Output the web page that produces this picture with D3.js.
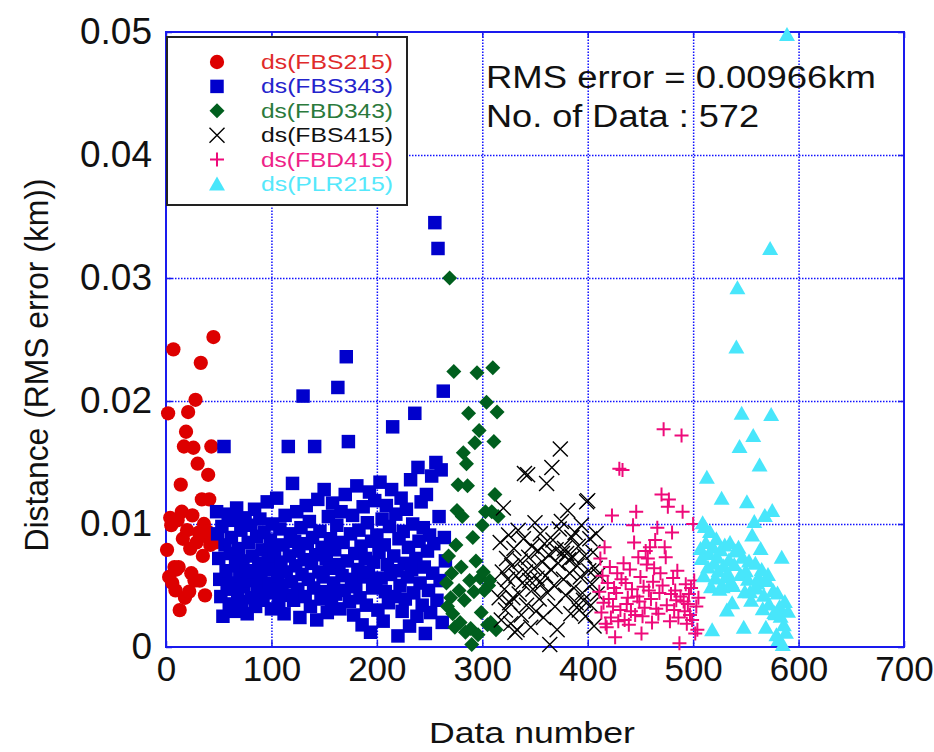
<!DOCTYPE html>
<html lang="en">
<head>
<meta charset="utf-8">
<script src="https://cdn.jsdelivr.net/npm/d3@7/dist/d3.min.js"></script>
<style type="text/css">
body {
	margin: 0;
	background-color: #ffffff;
	font-family: "Liberation Sans", Arial, sans-serif;
}
.axis text {
	font-family: "Liberation Sans", Arial, sans-serif;
	font-size: 35px;
	fill: #111;
}
.yaxis text { font-size: 37px; }
.axis line { stroke: #1a1aee; stroke-width: 1.5; }
.grid line { stroke: #1010ff; stroke-width: 1.5; stroke-dasharray: 1.5,1.5; }
</style>
</head>
<body>
<script type="text/javascript">

// axis ticks
var xTicks = [0, 100, 200, 300, 400, 500, 600, 700];
var yTicks = [0, 0.01, 0.02, 0.03, 0.04, 0.05];
var yTickLabels = ["0", "0.01", "0.02", "0.03", "0.04", "0.05"];

// legend names and the first data number of each series
var seriesNames = ["ds(FBS215)", "ds(FBS343)", "ds(FBD343)", "ds(FBS415)", "ds(FBD415)", "ds(PLR215)"];
var firstDataNumber = [1, 48, 266, 316, 411, 507];

// distances (km), one per data number
var fbs215 = [.0079, .0190, .0057, .0105, .0099, .0052, .0242, .0065, .0046, .0063,
	.0103, .0065, .0030, .0132, .0110, .0088, .0163, .0040, .0175, .0095,
	.0191, .0045, .0080, .0060, .0107, .0162, .0054, .0201, .0085, .0149,
	.0093, .0054, .0231, .0120, .0074, .0100, .0042, .0090, .0094, .0140,
	.0120, .0083, .0163, .0087, .0252, .0090, .0085];

var fbs343 = [.0110, .0092, .0072, .0055, .0041, .0098, .0025, .0163, .0083, .0062,
	.0047, .0108, .0035, .0076, .0089, .0052, .0103, .0029, .0066, .0113,
	.0043, .0080, .0058, .0095, .0037, .0070, .0049, .0105, .0062, .0027,
	.0085, .0054, .0099, .0040, .0074, .0061, .0112, .0033, .0090, .0048,
	.0068, .0104, .0056, .0079, .0038, .0093, .0065, .0045, .0118, .0071,
	.0052, .0087, .0031, .0100, .0063, .0078, .0044, .0121, .0058, .0036,
	.0096, .0069, .0050, .0083, .0027, .0107, .0061, .0042, .0163, .0074,
	.0092, .0053, .0133, .0038, .0086, .0066, .0110, .0047, .0078, .0024,
	.0097, .0059, .0204, .0071, .0041, .0115, .0084, .0055, .0102, .0033,
	.0068, .0089, .0048, .0163, .0075, .0022, .0120, .0061, .0094, .0039,
	.0081, .0057, .0128, .0045, .0072, .0028, .0106, .0064, .0088, .0036,
	.0117, .0052, .0079, .0043, .0099, .0211, .0067, .0031, .0110, .0058,
	.0085, .0046, .0124, .0236, .0070, .0167, .0037, .0092, .0055, .0107,
	.0026, .0076, .0049, .0131, .0063, .0095, .0040, .0082, .0018, .0114,
	.0057, .0072, .0034, .0101, .0061, .0126, .0012, .0086, .0048, .0069,
	.0119, .0053, .0091, .0030, .0077, .0134, .0056, .0104, .0021, .0083,
	.0045, .0115, .0067, .0036, .0098, .0059, .0128, .0179, .0074, .0041,
	.0108, .0062, .0009, .0088, .0050, .0121, .0029, .0094, .0068, .0039,
	.0112, .0057, .0081, .0017, .0136, .0063, .0100, .0044, .0190, .0072,
	.0025, .0146, .0086, .0052, .0118, .0034, .0097, .0065, .0011, .0124,
	.0078, .0046, .0091, .0028, .0139, .0060, .0084, .0345, .0150, .0038,
	.0324, .0106, .0054, .0144, .0020, .0208, .0089, .0070];

var fbd343 = [.0052, .0033, .0074, .0300, .0040, .0060, .0027, .0224, .0016, .0083,
	.0111, .0132, .0046, .0020, .0065, .0106, .0158, .0038, .0012, .0149,
	.0131, .0190, .0054, .0015, .0002, .0089, .0045, .0166, .0070, .0223,
	.0010, .0176, .0056, .0028, .0099, .0061, .0046, .0110, .0199, .0018,
	.0050, .0054, .0020, .0110, .0227, .0167, .0124, .0014, .0191, .0106];

var fbs415 = [.0040, .0085, .0022, .0061, .0113, .0047, .0030, .0072, .0055, .0091,
	.0036, .0019, .0066, .0040, .0080, .0012, .0058, .0014, .0095, .0043,
	.0070, .0026, .0052, .0088, .0141, .0061, .0034, .0140, .0073, .0054,
	.0016, .0082, .0047, .0064, .0101, .0029, .0056, .0078, .0039, .0092,
	.0051, .0069, .0024, .0084, .0058, .0133, .0044, .0075, .0002, .0063,
	.0146, .0087, .0050, .0033, .0079, .0014, .0068, .0096, .0161, .0102,
	.0076, .0055, .0080, .0042, .0076, .0111, .0071, .0060, .0027, .0089,
	.0073, .0048, .0093, .0036, .0066, .0082, .0030, .0057, .0099, .0044,
	.0038, .0074, .0025, .0118, .0119, .0062, .0088, .0034, .0051, .0077,
	.0017, .0064, .0092, .0043, .0059];

var fbd415 = [.0045, .0072, .0028, .0058, .0036, .0081, .0019, .0016, .0052, .0039,
	.0065, .0024, .0107, .0033, .0048, .0008, .0044, .0060, .0021, .0145,
	.0030, .0055, .0144, .0068, .0022, .0052, .0035, .0040, .0018, .0063,
	.0029, .0047, .0099, .0085, .0026, .0110, .0041, .0073, .0037, .0057,
	.0011, .0025, .0049, .0032, .0078, .0067, .0072, .0046, .0081, .0039,
	.0020, .0053, .0064, .0087, .0031, .0097, .0027, .0044, .0060, .0124,
	.0050, .0177, .0081, .0073, .0034, .0114, .0120, .0021, .0043, .0093,
	.0056, .0030, .0046, .0038, .0062, .0024, .0003, .0041, .0172, .0110,
	.0037, .0029, .0051, .0019, .0035, .0043, .0026, .0048, .0022, .0100,
	.0054, .0011, .0033, .0014, .0040];

var plr215 = [.0080, .0072, .0101, .0058, .0098, .0085, .0138, .0065, .0076, .0094,
	.0049, .0014, .0081, .0068, .0056, .0088, .0073, .0062, .0047, .0079,
	.0121, .0049, .0066, .0083, .0057, .0030, .0060, .0071, .0085, .0053,
	.0036, .0050, .0067, .0078, .0244, .0292, .0081, .0163, .0059, .0190,
	.0073, .0016, .0045, .0062, .0118, .0055, .0070, .0045, .0038, .0091,
	.0172, .0102, .0068, .0048, .0052, .0057, .0148, .0080, .0063, .0031,
	.0042, .0107, .0016, .0054, .0059, .0035, .0324, .0189, .0111, .0046,
	.0028, .0027, .0010, .0044, .0006, .0033, .0025, .0073, .0002, .0018,
	.0037, .0012, .0498, .0029];

var allSeries = [fbs215, fbs343, fbd343, fbs415, fbd415, plr215];

// marker and text colours per series
var markColors = ["#dd0000", "#0000cc", "#005f1e", "#000000", "#ee0a7a", "#48e6fb"];
var textColors = ["#e02a2a", "#2424cc", "#2b7a3c", "#111111", "#ee2288", "#55e8fb"];
var markTypes = ["circle", "square", "diamond", "cross", "plus", "triangle"];

var width = 934, height = 752;

var svg = d3.select("body").append("svg")
	.attr("width", width)
	.attr("height", height);

var x = d3.scaleLinear().domain([0, 700]).range([166, 904]);
var y = d3.scaleLinear().domain([0, 0.05]).range([647, 32]);

// marker shapes
function markPath(type) {
	if (type == "circle") return d3.symbol().type(d3.symbolCircle).size(160)();
	if (type == "square") return d3.symbol().type(d3.symbolSquare).size(182)();
	if (type == "triangle") return "M0,-7.5L8,6.5L-8,6.5Z";
	if (type == "diamond") return "M0,-7.5L7.5,0L0,7.5L-7.5,0Z";
	if (type == "cross") return "M-7.5,-7.5L7.5,7.5M-7.5,7.5L7.5,-7.5";
	return "M-7,0L7,0M0,-7L0,7";
}
function styleMark(sel, i) {
	var t = markTypes[i];
	if (t == "cross" || t == "plus") {
		sel.attr("fill", "none")
			.attr("stroke", markColors[i])
			.attr("stroke-width", t == "cross" ? 1.4 : 2);
	} else {
		sel.attr("fill", markColors[i]).attr("stroke", "none");
	}
}

// gridlines
svg.append("g")
	.attr("class", "grid")
	.attr("transform", "translate(0,647)")
	.call(d3.axisBottom(x).tickValues(xTicks.slice(1, -1)).tickSize(-615).tickFormat(""))
	.select(".domain").remove();

svg.append("g")
	.attr("class", "grid")
	.attr("transform", "translate(166,0)")
	.call(d3.axisLeft(y).tickValues(yTicks.slice(1, -1)).tickSize(-738).tickFormat(""))
	.select(".domain").remove();

// axes
svg.append("g")
	.attr("class", "axis")
	.attr("transform", "translate(0,647)")
	.call(d3.axisBottom(x).tickValues(xTicks).tickSizeInner(-6).tickSizeOuter(0).tickPadding(9));

svg.append("g")
	.attr("class", "axis yaxis")
	.attr("transform", "translate(166,0)")
	.call(d3.axisLeft(y).tickValues(yTicks).tickSizeInner(-6).tickSizeOuter(0).tickPadding(14)
		.tickFormat(function(d, i) { return yTickLabels[i]; }));

svg.append("g")
	.attr("class", "axis")
	.attr("transform", "translate(0,32)")
	.call(d3.axisTop(x).tickValues(xTicks).tickSizeInner(-6).tickSizeOuter(0).tickFormat(""));

svg.append("g")
	.attr("class", "axis")
	.attr("transform", "translate(904,0)")
	.call(d3.axisRight(y).tickValues(yTicks).tickSizeInner(-6).tickSizeOuter(0).tickFormat(""));

svg.selectAll(".axis .domain").remove();

// frame
svg.append("rect")
	.attr("x", x(0))
	.attr("y", y(0.05))
	.attr("width", x(700) - x(0))
	.attr("height", y(0) - y(0.05))
	.attr("fill", "none")
	.attr("stroke", "#1a1aee")
	.attr("stroke-width", 2);

// points
allSeries.forEach(function(values, i) {
	var pts = svg.append("g").selectAll("path")
		.data(values)
		.enter()
		.append("path")
		.attr("d", markPath(markTypes[i]))
		.attr("transform", function(d, j) {
			return "translate(" + x(firstDataNumber[i] + j) + "," + y(d) + ")";
		});
	styleMark(pts, i);
});

// legend
var legend = svg.append("g");
legend.append("rect")
	.attr("x", 167).attr("y", 37)
	.attr("width", 240).attr("height", 168)
	.attr("fill", "#fff")
	.attr("stroke", "#222")
	.attr("stroke-width", 2);

seriesNames.forEach(function(name, i) {
	var cy = 62 + i * 24.4;
	var m = legend.append("path")
		.attr("d", markPath(markTypes[i]))
		.attr("transform", "translate(217," + cy + ")");
	styleMark(m, i);
	legend.append("text")
		.attr("x", 261)
		.attr("y", cy + 7)
		.attr("font-size", "21px")
		.attr("textLength", 132)
		.attr("lengthAdjust", "spacingAndGlyphs")
		.attr("fill", textColors[i])
		.text(name);
});

// annotation
svg.append("text")
	.attr("x", 486).attr("y", 88)
	.attr("font-size", "31px")
	.attr("textLength", 390)
	.attr("lengthAdjust", "spacingAndGlyphs")
	.attr("fill", "#111")
	.text("RMS error = 0.00966km");

svg.append("text")
	.attr("x", 486).attr("y", 127)
	.attr("font-size", "31px")
	.attr("textLength", 273)
	.attr("lengthAdjust", "spacingAndGlyphs")
	.attr("fill", "#111")
	.text("No. of Data : 572");

// axis titles
svg.append("text")
	.attr("x", 532).attr("y", 743)
	.attr("text-anchor", "middle")
	.attr("font-size", "30px")
	.attr("textLength", 206)
	.attr("lengthAdjust", "spacingAndGlyphs")
	.attr("fill", "#111")
	.text("Data number");

svg.append("text")
	.attr("transform", "translate(48,365) rotate(-90)")
	.attr("text-anchor", "middle")
	.attr("font-size", "34px")
	.attr("textLength", 373)
	.attr("lengthAdjust", "spacingAndGlyphs")
	.attr("fill", "#111")
	.text("Distance (RMS error (km))");

</script>
</body>
</html>
